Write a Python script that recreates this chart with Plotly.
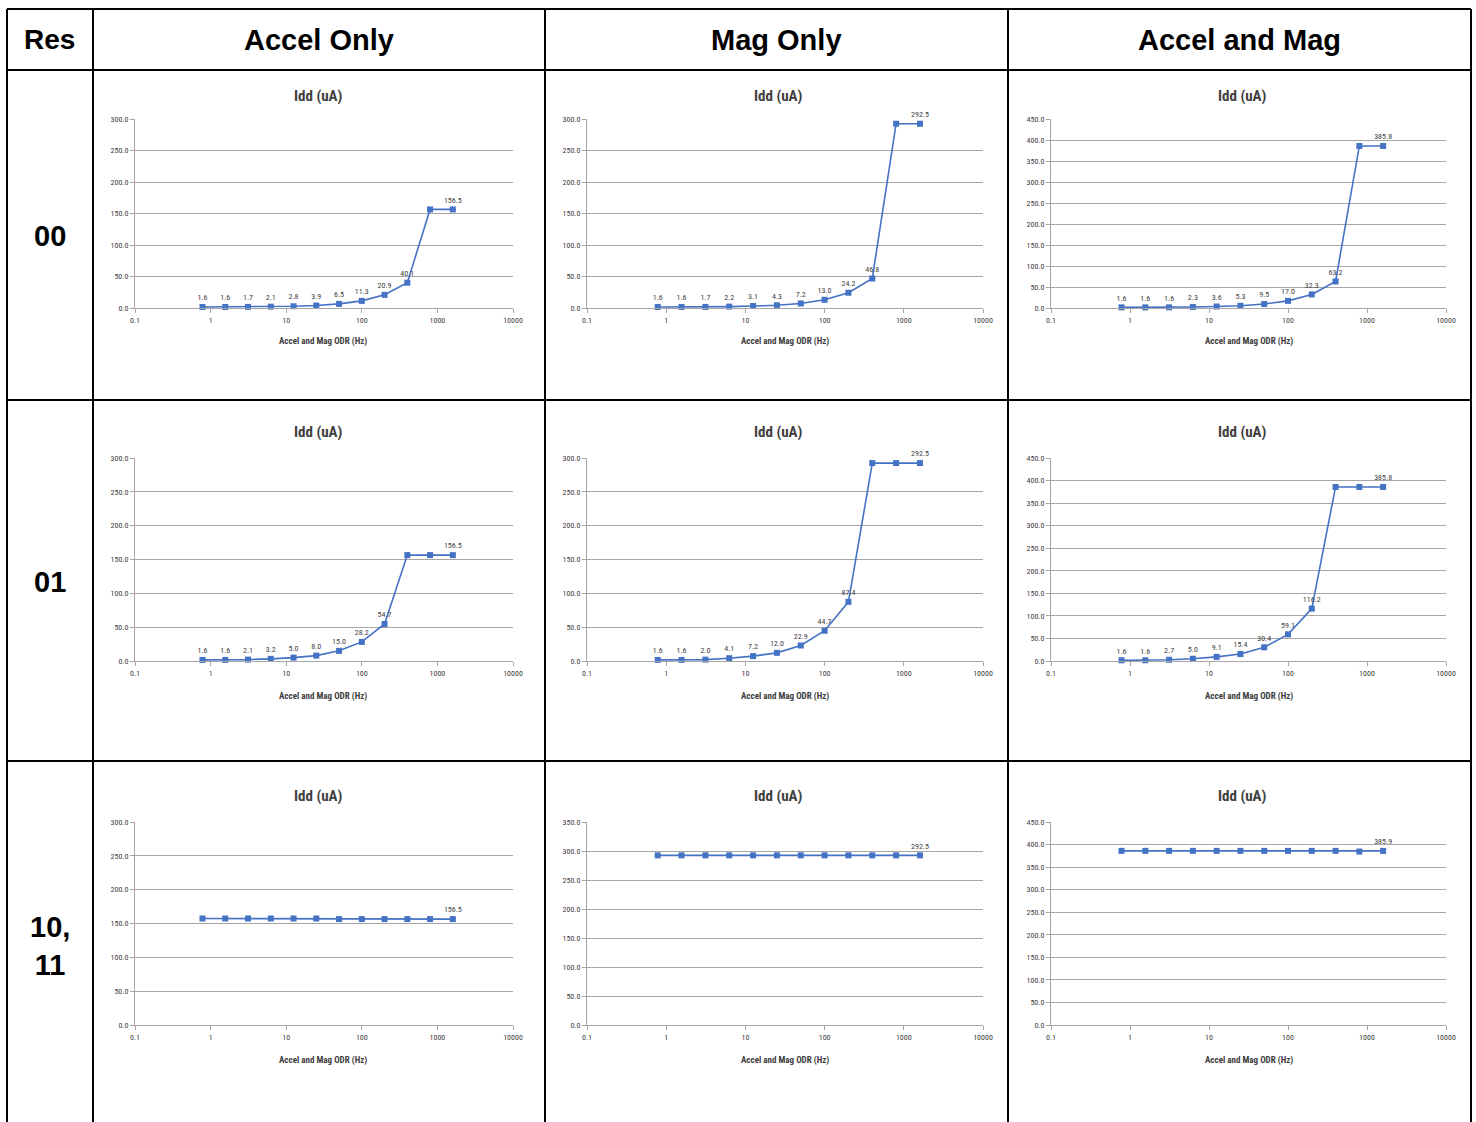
import plotly.graph_objects as go

# ---------------- data ----------------
odr_hz = [0.78125, 1.5625, 3.125, 6.25, 12.5, 25, 50, 100, 200, 400, 800, 1600]

col_titles = ["Accel Only", "Mag Only", "Accel and Mag"]
row_titles = ["00", "01", "10,<br>11"]

idd_00_accel = [1.6, 1.6, 1.7, 2.1, 2.8, 3.9, 6.5, 11.3, 20.9, 40.1, 156.5, 156.5]
idd_00_mag = [1.6, 1.6, 1.7, 2.2, 3.1, 4.3, 7.2, 13.0, 24.2, 46.8, 292.5, 292.5]
idd_00_both = [1.6, 1.6, 1.6, 2.3, 3.6, 5.3, 9.5, 17.0, 32.3, 63.2, 385.8, 385.8]

idd_01_accel = [1.6, 1.6, 2.1, 3.2, 5.0, 8.0, 15.0, 28.2, 54.7, 156.5, 156.5, 156.5]
idd_01_mag = [1.6, 1.6, 2.0, 4.1, 7.2, 12.0, 22.9, 44.7, 87.4, 292.5, 292.5, 292.5]
idd_01_both = [1.6, 1.6, 2.7, 5.0, 9.1, 15.4, 30.4, 59.1, 116.2, 385.8, 385.8, 385.8]

idd_10_accel = [157.4, 157.4, 157.4, 157.4, 157.4, 157.4, 156.5, 156.5, 156.5, 156.5, 156.5, 156.5]
idd_10_mag = [292.5] * 12
idd_10_both = [386.0, 386.0, 386.0, 386.0, 386.0, 386.0, 386.0, 386.0, 386.0, 386.0, 384.5, 385.9]

# which points carry a data label, per row
labelled_00 = [0, 1, 2, 3, 4, 5, 6, 7, 8, 9, 11]
labelled_01 = [0, 1, 2, 3, 4, 5, 6, 7, 8, 11]
labelled_10 = [11]

y_max = [[300, 300, 450], [300, 300, 450], [300, 350, 450]]

x_tick_vals = [0.1, 1, 10, 100, 1000, 10000]
x_tick_text = ["0.1", "1", "10", "100", "1000", "10000"]

series = [[idd_00_accel, idd_00_mag, idd_00_both],
          [idd_01_accel, idd_01_mag, idd_01_both],
          [idd_10_accel, idd_10_mag, idd_10_both]]
labelled = [labelled_00, labelled_01, labelled_10]

# ---------------- layout geometry (pixels) ----------------
W, H = 1476, 1122
col_x = [(135, 513), (587, 983), (1051, 1446)]
row_y = [(119, 308), (458, 661), (822, 1025)]
title_y = [96, 432, 796]
title_x = [318, 778, 1242]
xtitle_y = [341, 696, 1060]
xtitle_x = [323, 785, 1249]

table_x = [7, 93, 545, 1008, 1471]
table_y = [9, 70, 400, 761]

LINE = "#4472C4"
GRID = "#a6a6a6"
NARROW = "Liberation Sans Narrow, Arial Narrow, Roboto Condensed, DejaVu Sans Condensed, sans-serif"
ARIAL = "Liberation Sans, Arial, sans-serif"


def px_x(v):
    return v / W


def px_y(v):
    return 1 - v / H


fig = go.Figure()
annotations = []
layout_axes = {}

for r in range(3):
    for c in range(3):
        n = r * 3 + c + 1
        xa = "x" if n == 1 else f"x{n}"
        ya = "y" if n == 1 else f"y{n}"
        vals = series[r][c]
        txt = [f"{v:.1f}" if i in labelled[r] else "" for i, v in enumerate(vals)]
        fig.add_trace(go.Scatter(
            x=odr_hz, y=vals, mode="lines+markers+text", text=txt,
            textposition="top center",
            textfont=dict(family=NARROW, size=8, color="#404040"),
            line=dict(color=LINE, width=1.6),
            marker=dict(symbol="square", size=6, color=LINE),
            xaxis=xa, yaxis=ya, cliponaxis=False, showlegend=False,
            hoverinfo="x+y"))
        x0, x1 = col_x[c]
        y0, y1 = row_y[r]
        layout_axes["xaxis" if n == 1 else f"xaxis{n}"] = dict(
            domain=[px_x(x0), px_x(x1)], anchor=ya, type="log", automargin=False,
            range=[-1, 4], tickvals=x_tick_vals, ticktext=x_tick_text,
            showgrid=False, showline=True, linecolor=GRID, linewidth=1,
            ticks="outside", ticklen=4, tickcolor=GRID, zeroline=False,
            tickfont=dict(family=NARROW, size=8, color="#404040"))
        layout_axes["yaxis" if n == 1 else f"yaxis{n}"] = dict(
            domain=[px_y(y1), px_y(y0)], anchor=xa, automargin=False,
            range=[0, y_max[r][c]], dtick=50, tickformat=".1f",
            showgrid=True, gridcolor=GRID, gridwidth=1,
            showline=True, linecolor=GRID, linewidth=1, zeroline=False,
            ticks="outside", ticklen=4, tickcolor=GRID,
            tickfont=dict(family=NARROW, size=8, color="#404040"))
        annotations.append(dict(
            x=px_x(title_x[c]), y=px_y(title_y[r]), xref="paper", yref="paper",
            text="<b>Idd (uA)</b>", showarrow=False, xanchor="center", yanchor="middle",
            font=dict(family=NARROW, size=15, color="#404040")))
        annotations.append(dict(
            x=px_x(xtitle_x[c]), y=px_y(xtitle_y[r]), xref="paper", yref="paper",
            text="<b>Accel and Mag ODR (Hz)</b>", showarrow=False, xanchor="center",
            yanchor="middle", font=dict(family=NARROW, size=9, color="#404040")))

# table header texts
annotations.append(dict(x=px_x(50), y=px_y(40), xref="paper", yref="paper",
                        text="<b>Res</b>", showarrow=False, xanchor="center", yanchor="middle",
                        font=dict(family=ARIAL, size=28, color="black")))
for c, t in enumerate(col_titles):
    cx = (table_x[c + 1] + table_x[c + 2]) / 2
    annotations.append(dict(x=px_x(cx), y=px_y(40), xref="paper", yref="paper",
                            text=f"<b>{t}</b>", showarrow=False,
                            xanchor="center", yanchor="middle",
                            font=dict(family=ARIAL, size=29, color="black")))
row_label_y = [236, 582, 946]
for r, t in enumerate(row_titles):
    annotations.append(dict(x=px_x(50), y=px_y(row_label_y[r]), xref="paper", yref="paper",
                            text=f"<b>{t}</b>", showarrow=False,
                            xanchor="center", yanchor="middle",
                            font=dict(family=ARIAL, size=29, color="black")))

shapes = []
for xv in table_x:
    shapes.append(dict(type="line", xref="paper", yref="paper",
                       x0=px_x(xv), x1=px_x(xv), y0=px_y(table_y[0]), y1=px_y(H + 5),
                       line=dict(color="black", width=2)))
for yv in table_y:
    shapes.append(dict(type="line", xref="paper", yref="paper",
                       x0=px_x(table_x[0]), x1=px_x(table_x[-1]), y0=px_y(yv), y1=px_y(yv),
                       line=dict(color="black", width=2)))

fig.update_layout(width=W, height=H,
                  margin=dict(l=0, r=0, t=0, b=0, pad=0, autoexpand=False),
                  paper_bgcolor="white", plot_bgcolor="white",
                  annotations=annotations, shapes=shapes, **layout_axes)

fig.write_html("out.html", config={"displayModeBar": False},
               post_script="document.body.style.margin='0';document.body.style.overflow='hidden';")
